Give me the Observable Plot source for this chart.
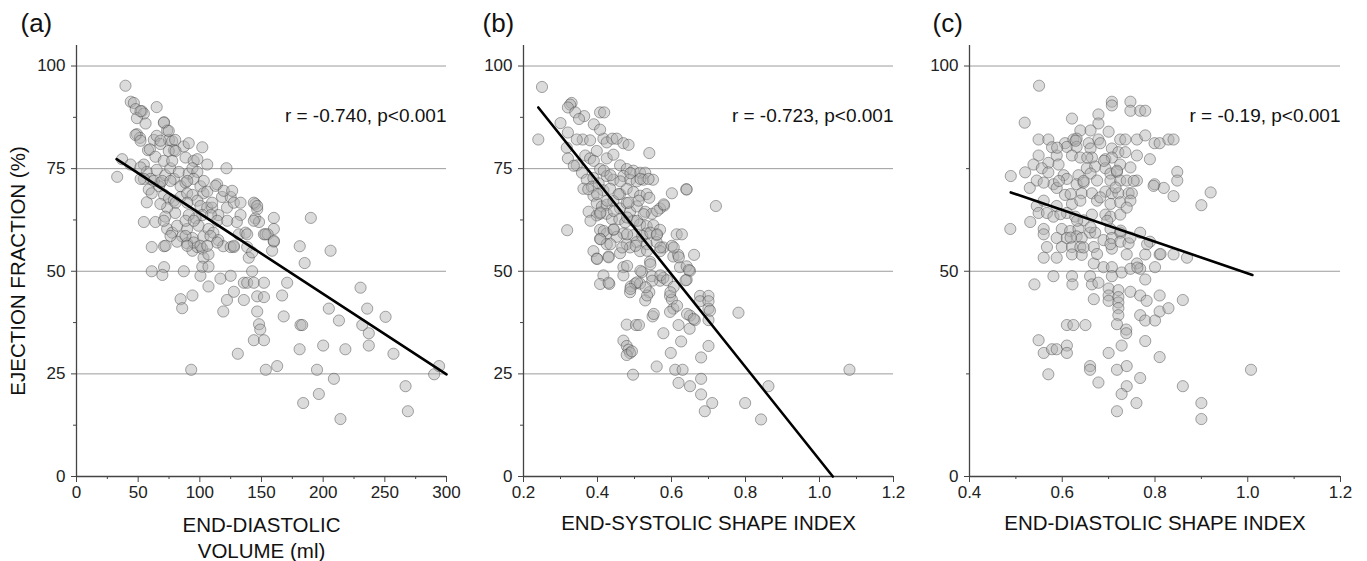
<!DOCTYPE html>
<html>
<head>
<meta charset="utf-8">
<script src="https://cdn.jsdelivr.net/npm/d3@7"></script>
<script src="https://cdn.jsdelivr.net/npm/@observablehq/plot@0.6"></script>
<style>
  html, body { margin: 0; padding: 0; background: #fff; }
  #wrap { position: relative; width: 1367px; height: 561px; background: #fff; overflow: hidden; }
  .panel { position: absolute; top: 0; }
</style>
</head>
<body>
<div id="wrap"></div>
<script>
// ---------- DATA ----------
// Panel (a): [end-diastolic volume (ml), ejection fraction (%)]
const panelA = [
[39.7,95.2],[33,73],[37,77.3],[43.8,76],[44,91.3],[46.5,91],[48,89.5],[53,89],[54.6,88.4],[49,87.3],[56,86],[49,83.4],[51.5,82.5],[65,90],[71,86.3],[58,79.5],[62.7,82],[65,83],[68,81],[73.5,84.3],[75,82],[77.6,81.7],[80,82],[79,79.5],[87,80.4],[91,81.2],[102,80.2],[106,76],[88.4,77.7],[95,76.9],[98,77.3],[121.6,75.1],
[54.6,76],[57,74.2],[60,72.5],[65,74.7],[68,71.6],[72,73.4],[76,75.1],[79,72.5],[83,74.2],[84.4,70.7],[88.4,71.6],[91,73.8],[94,75.1],[98,74.2],[95,72.5],[100.5,70.7],[103,69],[106,69.4],[114,71.2],[54.6,72.5],[52,72.5],[58.6,69.9],[57,66.8],[61,69],[67,70.7],[71,68.6],[75,67.7],[79,67.2],[84.4,68.1],[89.7,69],[94,68.6],[98,67.2],[100.5,65.9],[106,65.5],[110,65.5],[118,68.1],[125,68.1],[122,65.5],[115,63.7],[109,63.7],[102,63.7],[96.5,62.9],[91,63.7],[80,64.2],[73.5,65.5],[68,66.4],
[54.6,62],[64,62],[72,63.3],[73.5,60.3],[77.6,59.4],[81.6,61.1],[85.7,58.5],[89.7,60.3],[94,58.1],[99,61.1],[103,58.5],[107,60.3],[111,59.4],[115,57.6],[61,55.9],[71,56.1],[81.6,57.2],[89.7,56.8],[94,55],[98,55.9],[102,55.5],[103,53.3],[107,54.1],[119,56.1],[125,55.9],[127.6,55.9],[131.6,59],[133,63.7],[130,62],[137,59.4],[145,66.4],[146.5,65.1],[145,62.9],[148,62],[160,63],[160,60.3],[152,59],[155,59],[160,57.2],[158.6,55],[138.4,55.9],[139.7,53.3],[142.4,54.6],
[61,50],[71,51],[69.6,49.1],[87,50],[100.5,48.9],[102,51.1],[107,51.1],[107,46.3],[116.7,48.2],[125,48.9],[142.4,50],[135.7,47.2],[138.4,47.2],[143.8,47.2],[152,47.2],[170.8,47.2],[84.4,43.2],[85.7,41],[94,44.1],[119,40.2],[122,43],[127.6,45],[135.7,43],[146.5,43.9],[152,43.7],[166.7,44.1],[146.5,40.2],[148,37.1],[149,35.8],[143.8,33.2],[152,33.2],[168,39],[181.6,36.9],[183,36.9],[204.6,40.9],[212.8,38],[230.3,46],[235.7,40.9],[231.7,36.9],[237,34.9],[250.6,38.9],[237,31.9],[130.8,29.9],[180.9,31],[200,31.9],[218,31],[257,29.9],[93,26],[153.5,26],[162.7,26.9],[195,26],[208.7,23.8],[290,24.9],[294,26.9],[266.8,22],[183.8,17.9],[196.5,20.1],[214,14],[268.7,15.9],[190,63],[181,56.1],[185,52],[206,55],
[51.9,89],[70.8,86.2],[74.8,84.2],[47.8,83.2],[51.9,81.8],[68.1,81.8],[59.5,79.7],[74.8,79.3],[80.3,79.3],[64,77.9],[70.8,76.9],[77.6,76.9],[51.9,75.3],[62.7,72],[69.5,72],[76.2,72],[89.8,72],[103.2,72],[112.7,70.8],[119.4,69.6],[126.2,69.6],[80.3,66.7],[89.8,66.7],[110,66.7],[127.6,66.7],[133,66.7],[143.8,66.7],[70.8,62.3],[88.4,62.3],[95.1,62.3],[114.1,62.3],[122.2,62.3],[138.4,59],[143.8,62.3],[76.2,58.6],[88.4,58.6],[95.1,57],[108.6,58.6],[114.1,57],[72.2,56.2],[89.8,56.2],[100.5,56.2],[106,56.2],[127.6,56.2],[146.5,65.9],[160,57.4],[153.2,59]
];
// Panel (b): [end-systolic shape index, ejection fraction (%)]
const panelB = [
[0.25,94.9],[0.24,82.1],[0.33,91],[0.326,90.6],[0.32,89.9],[0.34,88.7],[0.364,87.8],[0.35,87.1],[0.30,86.1],[0.32,83.8],[0.39,85.8],[0.407,88.7],[0.418,88.7],[0.318,60],[0.36,82.1],[0.344,82.1],[0.38,81.9],[0.416,82.3],[0.425,81.4],[0.44,82.3],[0.452,82.3],[0.47,81.2],[0.484,80.8],[0.407,84.5],[0.54,78.8],[0.317,80.1],[0.32,77.5],[0.344,75.8],[0.367,78.2],[0.38,77.5],[0.398,79.3],[0.425,77.5],[0.443,78.4],[0.461,75.8],[0.479,74.9],[0.497,74.5],[0.515,74],[0.529,74],[0.358,74],[0.371,72.3],[0.389,72.7],[0.407,74.9],[0.425,73.2],[0.443,72.3],[0.47,73.2],[0.488,72.3],[0.506,71.9],[0.524,72.3],[0.55,72.3],
[0.362,70.1],[0.385,70.6],[0.403,71.4],[0.416,69.7],[0.434,70.1],[0.461,68.8],[0.479,70.1],[0.497,69.3],[0.515,68.4],[0.533,68.8],[0.54,67.9],[0.64,70],[0.641,69.9],[0.72,65.9],[0.601,69],[0.389,68.4],[0.398,66.6],[0.412,65.8],[0.425,66.2],[0.443,67.1],[0.461,65.3],[0.479,66.6],[0.488,64.5],[0.506,65.8],[0.529,64.5],[0.547,64],[0.569,65.3],[0.58,66],[0.376,64.5],[0.398,63.6],[0.407,64],[0.425,64],[0.439,62.7],[0.459,62.7],[0.475,61.9],[0.497,62.3],[0.515,61.4],[0.533,61],[0.551,61.2],[0.569,60.1],[0.407,60.1],[0.425,59.2],[0.443,60.1],[0.47,59.2],[0.497,58.8],[0.533,59.2],[0.56,58.8],[0.614,59],[0.628,59],
[0.407,57.9],[0.425,56.6],[0.452,58.4],[0.479,56.6],[0.506,57.1],[0.533,56.6],[0.56,57.1],[0.578,55.8],[0.601,56.2],[0.389,54.9],[0.398,53.1],[0.43,53.6],[0.461,54.4],[0.488,55.8],[0.515,54.9],[0.542,52.3],[0.569,54.9],[0.605,53.6],[0.618,54],[0.661,54],[0.623,51],[0.641,51.2],[0.65,50.1],[0.52,49.8],[0.47,51],[0.416,49],[0.47,49],[0.547,48.8],[0.569,47.7],[0.578,48.4],[0.641,47.9],[0.407,46.9],[0.432,46.9],[0.49,46.3],[0.502,47],[0.515,47],[0.488,44.9],[0.54,44.9],[0.596,44],[0.601,43.1],[0.529,42.9],[0.677,44],[0.70,44],[0.677,42.7],[0.70,42.7],[0.70,40.9],[0.605,40.9],[0.596,40.1],[0.65,39.2],[0.663,38.1],[0.70,38.1],[0.781,39.9],[0.549,39],
[0.479,37],[0.504,36.9],[0.512,36.9],[0.619,36.9],[0.649,36],[0.578,34.9],[0.47,33.1],[0.479,31.8],[0.484,30.9],[0.488,30.1],[0.479,29.6],[0.493,30.5],[0.626,32.9],[0.70,31.8],[0.598,30.1],[0.68,29],[0.56,26.8],[0.61,26],[0.63,26],[0.496,24.8],[1.081,26],[0.619,22.8],[0.65,22],[0.68,23.8],[0.862,22],[0.68,20],[0.71,17.9],[0.69,15.9],[0.799,17.9],[0.842,13.9],
[0.647,50.3],[0.43,47.2],[0.381,62.3],[0.375,70],[0.336,75.7],[0.39,76.9],[0.417,74.5],[0.435,73.4],[0.462,71.9],[0.489,73.9],[0.516,72.5],[0.538,72.5],[0.399,68.8],[0.426,67.2],[0.457,68.8],[0.484,66.7],[0.511,67.2],[0.408,64.3],[0.444,64.7],[0.48,63.1],[0.507,62.3],[0.525,63.9],[0.561,64.7],[0.579,66.3],[0.417,59.8],[0.444,60.2],[0.48,59],[0.521,58.6],[0.543,59.4],[0.561,59],[0.408,57.8],[0.435,56.6],[0.467,55.8],[0.503,56.2],[0.534,55],[0.57,55.8],[0.606,55.8],[0.62,53.4],[0.399,53],[0.43,53.4],[0.48,51.3],[0.516,50.1],[0.543,51.7],[0.57,49],[0.588,47.8],[0.606,46.2],[0.638,47.8],[0.507,47.3],[0.489,45.7],[0.534,44.1],[0.597,44.9],[0.615,41.6],[0.642,39.6],[0.66,38.4],[0.704,40.4],[0.552,39.6],[0.548,47.7],[0.53,46.1]
];
// Panel (c): [end-diastolic shape index, ejection fraction (%)]
const panelC = [
[0.55,95.2],[0.519,86.2],[0.621,87.2],[0.707,91.3],[0.707,90.4],[0.747,91.3],[0.747,89.1],[0.768,89.1],[0.779,89.1],[0.678,88.2],[0.678,86],[0.639,84.3],[0.661,84.3],[0.70,84],[0.549,82.1],[0.57,82.1],[0.606,81.2],[0.624,82.1],[0.631,82.3],[0.657,81.2],[0.678,82.1],[0.682,81.2],[0.725,82.1],[0.736,82.1],[0.761,82.1],[0.779,83.1],[0.799,81.2],[0.81,81.2],[0.829,82.1],[0.84,82.1],[0.578,80.2],[0.61,80.3],[0.631,80.3],[0.661,79.9],[0.707,79.9],[0.721,79],[0.736,79],[0.549,78.2],[0.588,78.2],[0.621,78.2],[0.639,77.7],[0.664,77.7],[0.693,77.3],[0.707,77.7],[0.761,78.2],[0.789,77.3],
[0.538,76],[0.57,76.4],[0.592,76],[0.556,75.1],[0.653,75.1],[0.671,75.5],[0.693,75.1],[0.725,76],[0.747,75.3],[0.848,74.2],[0.848,72.1],[0.489,73.2],[0.52,74.1],[0.57,74.1],[0.603,73.4],[0.635,73.4],[0.661,73.8],[0.704,73.8],[0.718,74.2],[0.545,72.1],[0.581,71.2],[0.61,72.5],[0.631,71.2],[0.646,71.6],[0.675,72.1],[0.704,72.1],[0.725,72.1],[0.739,72.1],[0.761,72.1],[0.799,71.2],[0.819,70.3],[0.53,70.3],[0.56,71.6],[0.588,70.3],[0.606,68.6],[0.642,69],[0.664,69],[0.693,69.4],[0.707,69],[0.721,69],[0.743,69],[0.75,69],[0.92,69.2],[0.84,68.3],[0.90,66.1],
[0.545,65.9],[0.56,67.2],[0.588,65.9],[0.621,66.4],[0.639,67.2],[0.675,67.2],[0.704,66.4],[0.725,66.8],[0.747,67.2],[0.549,64.2],[0.567,64.2],[0.581,63.3],[0.531,62],[0.61,64.2],[0.628,63.3],[0.646,62.4],[0.664,63.8],[0.693,63.8],[0.704,63.3],[0.725,63.8],[0.739,65.5],[0.488,60.3],[0.56,60.3],[0.56,59],[0.599,60.3],[0.617,59.8],[0.635,60.3],[0.66,59.4],[0.671,59.4],[0.704,60.3],[0.725,59.4],[0.768,59.4],[0.588,58.1],[0.61,58.1],[0.631,58.5],[0.642,58.1],[0.689,57.6],[0.707,58.1],[0.725,57.2],[0.743,56.8],[0.789,57.2],
[0.567,55.9],[0.599,55.9],[0.621,55.9],[0.639,55.9],[0.668,55.9],[0.707,55.5],[0.779,54.1],[0.81,54.1],[0.84,54.1],[0.869,53.3],[0.56,53.3],[0.588,53.3],[0.621,54.1],[0.642,54],[0.739,54.1],[0.761,51.9],[0.668,51.9],[0.689,51],[0.707,51],[0.728,49.7],[0.747,50.6],[0.768,50.6],[0.80,51],[0.581,48.8],[0.621,48.8],[0.66,48.8],[0.707,48.8],[0.54,46.8],[0.622,46.8],[0.664,46.8],[0.678,47.2],[0.779,48],
[0.668,43.2],[0.70,45.8],[0.70,44.1],[0.70,42.8],[0.721,45.4],[0.721,43.7],[0.721,42.4],[0.747,45],[0.768,44.1],[0.782,42.8],[0.81,44.1],[0.86,43],[0.721,41],[0.721,39.3],[0.718,37.1],[0.768,39.3],[0.779,38],[0.80,38],[0.81,40.2],[0.829,41],[0.61,36.9],[0.624,36.9],[0.65,36.9],[0.738,35.8],[0.738,34.9],[0.549,33.2],[0.56,30.1],[0.578,31],[0.588,31],[0.61,31.9],[0.61,30.1],[0.779,33],[0.728,31.9],[0.70,30.1],[0.81,29.1],[0.66,26.9],[0.66,26],[0.718,26],[0.739,26.9],[1.007,26],[0.57,24.9],[0.678,22.9],[0.768,24],[0.739,22],[0.728,20.1],[0.86,22],[0.76,17.9],[0.718,15.9],[0.90,17.9],[0.90,14],
[0.589,80.1],[0.629,81.8],[0.654,77.7],[0.69,76.9],[0.718,74.5],[0.754,72],[0.715,70.4],[0.682,68],[0.646,72],[0.618,68.8],[0.593,72],[0.596,63.9],[0.632,62.3],[0.661,60.7],[0.697,62.3],[0.726,59.9],[0.747,58.2],[0.704,56.6],[0.618,58.2],[0.646,55.8],[0.675,54.2],[0.783,56.6],[0.812,54.2],[0.762,50.9],[0.797,70.8]
];

// Regression line end points
const lineA = [[32.5, 77.3], [300, 24.9]];
const lineB = [[0.24, 89.9], [1.036, 0]];
const lineC = [[0.489, 69.2], [1.01, 49.1]];

// Axis ticks
const xTicksA = [0, 50, 100, 150, 200, 250, 300];
const xMinorA = [25, 75, 125, 175, 225, 275];
const xTicksB = [0.2, 0.4, 0.6, 0.8, 1.0, 1.2];
const xMinorB = [0.3, 0.5, 0.7, 0.9, 1.1];
const xTicksC = [0.4, 0.6, 0.8, 1.0, 1.2];
const xMinorC = [0.5, 0.7, 0.9, 1.1];
const yTicksAB = [0, 25, 50, 75, 100];
const yMinorAB = [12.5, 37.5, 62.5, 87.5];
const yTicksC = [0, 50, 100];
const yMinorC = [25, 75];
const gridAB = [25, 50, 75, 100];
const gridC = [50, 100];

// Texts
const notes = ["r = -0.740, p<0.001", "r = -0.723, p<0.001", "r = -0.19, p<0.001"];
const letters = ["(a)", "(b)", "(c)"];
const yTitle = "EJECTION FRACTION (%)";

// ---------- DRAW ----------
const FONT = "'Liberation Sans', Arial, Helvetica, sans-serif";
const wrap = document.getElementById("wrap");

function panel(cfg) {
  const marks = [
    Plot.ruleY(cfg.grid, {stroke: "#9c9c9c", strokeWidth: 1}),
    Plot.ruleX([cfg.xDomain[0]], {stroke: "#444", strokeWidth: 1.3}),
    Plot.ruleY([0], {stroke: "#444", strokeWidth: 1.3}),
    Plot.axisX(cfg.xTicks, {tickSize: 6, tickPadding: 3, tickFormat: cfg.fmt, label: null, fontSize: 17, stroke: "#444"}),
    Plot.axisX(cfg.xMinor, {tickSize: 3, tickFormat: () => "", label: null, stroke: "#444"}),
    Plot.axisY(cfg.yTicks, {tickSize: 5, tickPadding: 6, label: null, fontSize: 17, stroke: "#444"}),
    Plot.axisY(cfg.yMinor, {tickSize: 3, tickFormat: () => "", label: null, stroke: "#444"}),
    Plot.dot(cfg.data, {x: d => d[0], y: d => d[1], r: 5.6, fill: "#b0b0b0", fillOpacity: 0.45, stroke: "#404040", strokeOpacity: 0.45, strokeWidth: 1}),
    Plot.line(cfg.line, {x: d => d[0], y: d => d[1], stroke: "#000", strokeWidth: 2.6}),
    Plot.text([cfg.note], {text: d => d, frameAnchor: "top-right", textAnchor: "end", lineAnchor: "middle", dy: 70, fontSize: 19, fill: "#111"}),
    Plot.text([cfg.letter], {text: d => d, frameAnchor: "top-left", textAnchor: "start", lineAnchor: "middle", dx: cfg.letterDx, dy: -22, fontSize: 26, fill: "#111"})
  ];
  cfg.titles.forEach(t => marks.push(
    Plot.text([t.t], {text: d => d, frameAnchor: "bottom", textAnchor: "middle", lineAnchor: "middle", dy: t.dy, fontSize: 20.5, fill: "#111"})
  ));
  if (cfg.yTitle) marks.push(
    Plot.text([cfg.yTitle], {text: d => d, frameAnchor: "left", textAnchor: "middle", rotate: -90, lineAnchor: "middle", dx: -58, dy: 10, fontSize: 20.5, fill: "#111"})
  );
  const chart = Plot.plot({
    width: cfg.width,
    height: 561,
    marginLeft: cfg.ml,
    marginRight: cfg.mr,
    marginTop: 45,
    marginBottom: 85,
    style: {fontFamily: FONT, fontSize: "17px", color: "#222", background: "transparent", overflow: "visible"},
    x: {domain: cfg.xDomain},
    y: {domain: [0, 105]},
    marks
  });
  const div = document.createElement("div");
  div.className = "panel";
  div.style.left = cfg.left + "px";
  div.appendChild(chart);
  wrap.appendChild(div);
}

panel({left: 0, width: 460, ml: 76, mr: 14, data: panelA, xDomain: [0, 300], xTicks: xTicksA, xMinor: xMinorA,
  fmt: d3.format("d"), yTicks: yTicksAB, yMinor: yMinorAB, grid: gridAB, line: lineA, note: notes[0],
  letter: letters[0], letterDx: -56, titles: [{t: "END-DIASTOLIC", dy: 49}, {t: "VOLUME (ml)", dy: 75}], yTitle});

panel({left: 460, width: 450, ml: 63, mr: 17, data: panelB, xDomain: [0.2, 1.2], xTicks: xTicksB, xMinor: xMinorB,
  fmt: d3.format(".1f"), yTicks: yTicksAB, yMinor: yMinorAB, grid: gridAB, line: lineB, note: notes[1],
  letter: letters[1], letterDx: -41, titles: [{t: "END-SYSTOLIC SHAPE INDEX", dy: 47}]});

panel({left: 910, width: 457, ml: 59, mr: 27, data: panelC, xDomain: [0.4, 1.2], xTicks: xTicksC, xMinor: xMinorC,
  fmt: d3.format(".1f"), yTicks: yTicksC, yMinor: yMinorC, grid: gridC, line: lineC, note: notes[2],
  letter: letters[2], letterDx: -37, titles: [{t: "END-DIASTOLIC SHAPE INDEX", dy: 47}]});
</script>
</body>
</html>
